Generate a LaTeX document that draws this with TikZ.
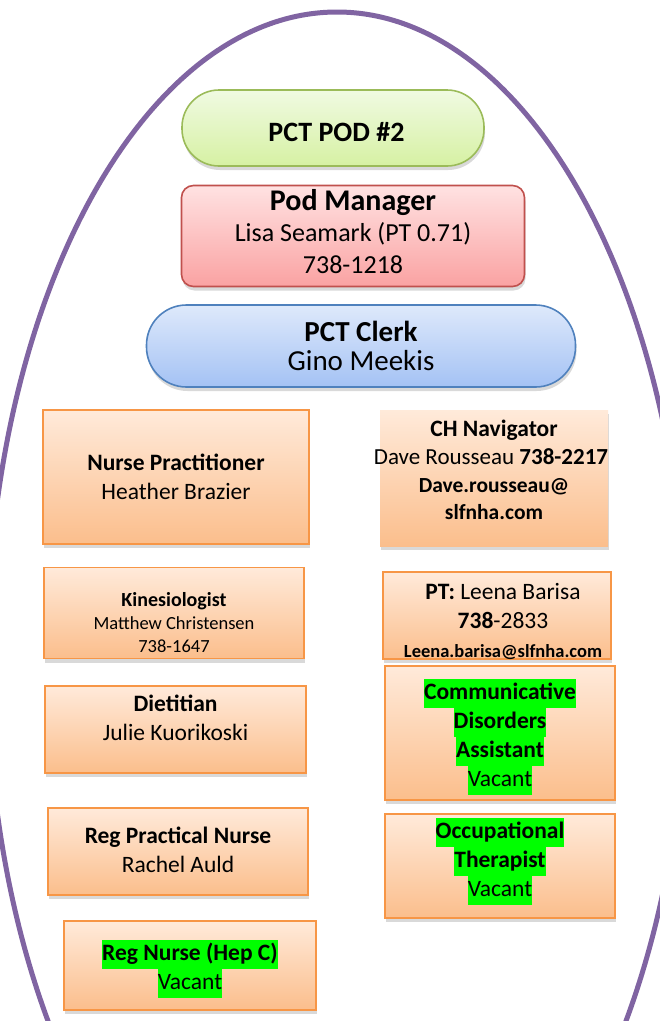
\documentclass[tikz,border=0pt]{standalone}
\usepackage{fontspec}
\setmainfont{Carlito}
\usetikzlibrary{shadows}
\definecolor{ring}{RGB}{128,100,162}
\definecolor{podtop}{RGB}{240,250,226}
\definecolor{podbot}{RGB}{214,241,163}
\definecolor{podline}{RGB}{155,187,89}
\definecolor{mgrtop}{RGB}{255,226,226}
\definecolor{mgrbot}{RGB}{250,162,162}
\definecolor{mgrline}{RGB}{192,80,77}
\definecolor{clktop}{RGB}{222,233,251}
\definecolor{clkbot}{RGB}{164,194,244}
\definecolor{clkline}{RGB}{79,129,189}
\definecolor{roletop}{RGB}{255,234,218}
\definecolor{rolebot}{RGB}{251,190,140}
\definecolor{roleline}{RGB}{247,150,70}
\definecolor{hlgreen}{RGB}{0,255,0}
\newcommand{\hlg}[1]{{\setlength{\fboxsep}{0pt}\colorbox{hlgreen}{\strut #1}}}
\newcommand{\fs}[2]{\fontsize{#1}{#2}\selectfont}

\begin{document}
\begin{tikzpicture}[
    x=1pt, y=-1pt,
    every node/.style={
        align=center, inner sep=0pt,
        font=\fs{23.5}{29}
    },
    box/.style={
        drop shadow={shadow xshift=1pt, shadow yshift=-4pt, opacity=0.3},
        line width=1.6pt
    },
    pod/.style={
        box, draw=podline, top color=podtop, bottom color=podbot,
        rounded corners=37pt
    },
    mgr/.style={
        box, draw=mgrline, top color=mgrtop, bottom color=mgrbot,
        rounded corners=12pt
    },
    clk/.style={
        box, draw=clkline, top color=clktop, bottom color=clkbot,
        rounded corners=40pt
    },
    role/.style={
        box, draw=roleline, top color=roletop, bottom color=rolebot
    },
    bare/.style={
        box, top color=roletop, bottom color=rolebot
    }
]
    \useasboundingbox (0,0) rectangle (660,1021);
    \clip (0,0) rectangle (660,1021);

    \draw [ring, line width=5pt] (337,657) ellipse [x radius=350, y radius=645];

    % top of the pod
    \node (pod) [pod, minimum width=302pt, minimum height=76pt] at (333,128)
        {\hspace*{7pt}{\fs{28}{29}\textbf{PCT POD \#2}}\\[-37pt]};
    \node (manager) [mgr, font=\fs{26}{31.5}, minimum width=343pt, minimum height=101pt] at (353,236)
        {{\fs{30}{32}\textbf{Pod Manager}}\\
         Lisa Seamark (PT 0.71)\\738-1218\\[-22pt]};
    \node (clerk) [clk, minimum width=429pt, minimum height=82pt] at (361,346)
        {{\fs{29}{30}\textbf{PCT Clerk}}\\{\fs{29}{30}Gino Meekis}};

    % left column
    \node (np) [role, minimum width=266pt, minimum height=134pt] at (176,477)
        {\textbf{Nurse Practitioner}\\Heather Brazier};
    \node (kin) [role, font=\fs{18.5}{23}, minimum width=260pt, minimum height=91pt] at (174,613)
        {{\fs{20}{23}\textbf{Kinesiologist}}\\Matthew Christensen\\738-1647\\[-41pt]};
    \node (diet) [role, minimum width=261pt, minimum height=87pt] at (175.5,729.5)
        {\textbf{Dietitian}\\Julie Kuorikoski\\[-5pt]};
    \node (rpn) [role, minimum width=260pt, minimum height=87pt] at (178,851.5)
        {\textbf{Reg Practical Nurse}\\Rachel Auld\\[-25pt]};
    \node (rn) [role, minimum width=252pt, minimum height=89pt] at (190,965.5)
        {\hlg{\textbf{Reg Nurse (Hep C)}}\\\hlg{Vacant}\\[-28pt]};

    % right column
    \node (nav) [bare, font=\fs{23.5}{27.7}, minimum width=228pt, minimum height=136pt] at (494,478)
        {\textbf{CH Navigator}\\
         \makebox[0pt]{\fs{23}{27.7}Dave Rousseau \textbf{738-2217}\hspace*{6pt}}\\
         {\fs{21.5}{27.7}\textbf{Dave.rousseau@}}\\
         {\fs{21.5}{27.7}\textbf{slfnha.com}}\\[-12pt]};
    \node (pt) [role, minimum width=228pt, minimum height=87pt] at (497,615.5)
        {\hspace*{12pt}\textbf{PT:} Leena Barisa\\\hspace*{12pt}\textbf{738}-2833\\
         \hspace*{12pt}{\fs{18.5}{30}\textbf{Leena.barisa@slfnha.com}}\\[-39pt]};
    \node (cda) [role, minimum width=230pt, minimum height=134pt] at (500,733)
        {\hlg{\textbf{Communicative}}\\\hlg{\textbf{Disorders}}\\
         \hlg{\textbf{Assistant}}\\\hlg{Vacant}\\[-28pt]};
    \node (ot) [role, minimum width=230pt, minimum height=104pt] at (500,866)
        {\hlg{\textbf{Occupational}}\\\hlg{\textbf{Therapist}}\\\hlg{Vacant}\\[-12pt]};

\end{tikzpicture}
\end{document}
